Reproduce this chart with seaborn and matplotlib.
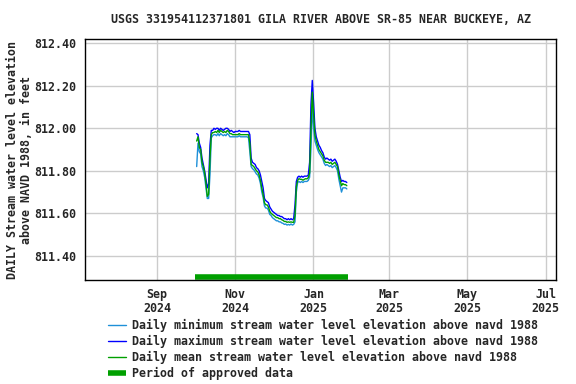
import pandas as pd
import seaborn as sns
import matplotlib.pyplot as plt
import matplotlib.transforms as mtransforms
from matplotlib.lines import Line2D

# daily values, 2024-10-02 .. 2025-01-27
daily_mean = [
  811.94, 811.96, 811.91, 811.90, 811.84, 811.82, 811.79, 811.74, 811.68, 811.69,
  811.86, 811.97, 811.98, 811.98, 811.985, 811.98, 811.99, 811.98, 811.99, 811.985,
  811.98, 811.985, 811.98, 811.99, 811.985, 811.975, 811.975, 811.97, 811.97, 811.97,
  811.97, 811.97, 811.975, 811.97, 811.97, 811.97, 811.97, 811.97, 811.97, 811.97,
  811.93, 811.83, 811.825, 811.82, 811.81, 811.80, 811.795, 811.78, 811.755, 811.72,
  811.69, 811.65, 811.64, 811.64, 811.63, 811.61, 811.60, 811.595, 811.59, 811.585,
  811.58, 811.58, 811.575, 811.575, 811.57, 811.567, 811.562, 811.562, 811.558, 811.56,
  811.558, 811.56, 811.558, 811.558, 811.59, 811.725, 811.755, 811.763, 811.76, 811.76,
  811.756, 811.76, 811.763, 811.762, 811.768, 811.79, 812.00, 812.17, 812.065, 811.97,
  811.94, 811.92, 811.90, 811.89, 811.88, 811.87, 811.85, 811.84, 811.84, 811.84,
  811.835, 811.84, 811.83, 811.835, 811.84, 811.83, 811.82, 811.78, 811.755, 811.73,
  811.74, 811.735, 811.735, 811.73,
]
daily_max = [
  811.975, 811.97, 811.93, 811.91, 811.86, 811.83, 811.80, 811.76, 811.72, 811.74,
  811.92, 811.99, 811.99, 812.00, 811.995, 812.00, 812.00, 811.99, 812.00, 811.995,
  811.99, 811.995, 812.00, 812.00, 811.995, 811.985, 811.99, 811.985, 811.98, 811.985,
  811.985, 811.985, 811.99, 811.985, 811.985, 811.985, 811.985, 811.985, 811.985, 811.985,
  811.97, 811.86, 811.84, 811.835, 811.83, 811.815, 811.81, 811.80, 811.78, 811.75,
  811.72, 811.67, 811.66, 811.655, 811.65, 811.63, 811.62, 811.61, 811.605, 811.60,
  811.595, 811.59, 811.59, 811.585, 811.585, 811.58, 811.575, 811.575, 811.57, 811.575,
  811.57, 811.575, 811.57, 811.575, 811.64, 811.75, 811.77, 811.775, 811.77, 811.775,
  811.77, 811.775, 811.775, 811.775, 811.78, 811.84, 812.11, 812.225, 812.12, 812.00,
  811.96, 811.94, 811.92, 811.91, 811.895, 811.885, 811.865, 811.855, 811.86, 811.855,
  811.85, 811.855, 811.845, 811.85, 811.855, 811.845, 811.83, 811.80, 811.77, 811.75,
  811.755, 811.75, 811.75, 811.745,
]
daily_min = [
  811.82, 811.93, 811.89, 811.88, 811.82, 811.80, 811.77, 811.72, 811.67, 811.67,
  811.78, 811.955, 811.965, 811.97, 811.97, 811.965, 811.975, 811.965, 811.975, 811.97,
  811.965, 811.97, 811.965, 811.975, 811.97, 811.96, 811.96, 811.96, 811.96, 811.96,
  811.96, 811.96, 811.965, 811.96, 811.96, 811.96, 811.96, 811.96, 811.96, 811.955,
  811.89, 811.82, 811.81, 811.805, 811.795, 811.785, 811.78, 811.765, 811.74, 811.70,
  811.675, 811.635, 811.625, 811.625, 811.615, 811.595, 811.59, 811.58, 811.575, 811.57,
  811.565, 811.565, 811.56, 811.56, 811.555, 811.553, 811.548, 811.55, 811.545, 811.548,
  811.545, 811.55, 811.545, 811.548, 811.56, 811.70, 811.745, 811.75, 811.745, 811.75,
  811.745, 811.75, 811.75, 811.75, 811.755, 811.77, 811.90, 812.10, 812.00, 811.94,
  811.92, 811.90, 811.885, 811.875, 811.865, 811.855, 811.835, 811.825, 811.83, 811.825,
  811.82, 811.825, 811.815, 811.82, 811.825, 811.815, 811.80, 811.76, 811.73, 811.70,
  811.72, 811.72, 811.72, 811.715,
]
approved = ["2024-10-01", "2025-01-28"]
tick_dates = ["2024-09-01", "2024-11-01", "2025-01-01", "2025-03-01", "2025-05-01", "2025-07-01"]
tick_labels = ["Sep\n2024", "Nov\n2024", "Jan\n2025", "Mar\n2025", "May\n2025", "Jul\n2025"]
y_ticks = [811.40, 811.60, 811.80, 812.00, 812.20, 812.40]

df = pd.DataFrame({
  "date": pd.date_range("2024-10-02", "2025-01-27", periods=len(daily_mean)),
  "mean": daily_mean, "max": daily_max, "min": daily_min,
})

sns.set_style("white")
plt.rcParams["font.family"] = ["DejaVu Sans Mono"]
plt.rcParams["font.weight"] = "bold"
fs = 8.4

fig = plt.figure(figsize=(5.76, 3.84), dpi=100)
ax = fig.add_axes([0.1476, 0.271, 0.8177, 0.627])

c_min, c_max, c_mean = "#1e90d8", "#0000ff", "#00a000"
sns.lineplot(x="date", y="min", data=df, ax=ax, color=c_min, lw=1)
sns.lineplot(x="date", y="max", data=df, ax=ax, color=c_max, lw=1)
sns.lineplot(x="date", y="mean", data=df, ax=ax, color=c_mean, lw=1)

# approved-data bar along the bottom of the plot
trans = mtransforms.blended_transform_factory(ax.transData, ax.transAxes)
ax.plot(pd.to_datetime(approved), [0.012, 0.012], color=c_mean, lw=4,
        transform=trans, solid_capstyle="butt")

ax.set_xlim(pd.Timestamp("2024-07-07"), pd.Timestamp("2025-07-09"))
ax.set_ylim(811.287, 812.419)
ax.set_xticks(pd.to_datetime(tick_dates))
ax.set_xticklabels(tick_labels, fontsize=fs, fontweight="bold", linespacing=1.1)
ax.set_yticks(y_ticks)
ax.set_yticklabels([f"{v:.2f}" for v in y_ticks], fontsize=fs, fontweight="bold")
ax.tick_params(length=0, pad=6)
ax.grid(True, color="#cccccc", lw=1)
for s in ax.spines.values():
  s.set_color("black")
  s.set_linewidth(1)
ax.set_xlabel("")
ax.set_ylabel("DAILY Stream water level elevation\nabove NAVD 1988, in feet",
              fontsize=fs, fontweight="bold", labelpad=1, linespacing=1.1)
ax.set_title("USGS 331954112371801 GILA RIVER ABOVE SR-85 NEAR BUCKEYE, AZ",
             fontsize=fs, fontweight="bold", pad=11.5)

handles = [
  Line2D([], [], color=c_min, lw=1),
  Line2D([], [], color=c_max, lw=1),
  Line2D([], [], color=c_mean, lw=1),
  Line2D([], [], color=c_mean, lw=4, solid_capstyle="butt"),
]
labels = [
  "Daily minimum stream water level elevation above navd 1988",
  "Daily maximum stream water level elevation above navd 1988",
  "Daily mean stream water level elevation above navd 1988",
  "Period of approved data",
]
fig.legend(handles, labels, loc="upper left", bbox_to_anchor=(0.188, 0.169),
           frameon=False, fontsize=fs, handlelength=1.5, handletextpad=0.55,
           labelspacing=0.25, borderaxespad=0, borderpad=0)

fig.savefig("out.png", dpi=100)
